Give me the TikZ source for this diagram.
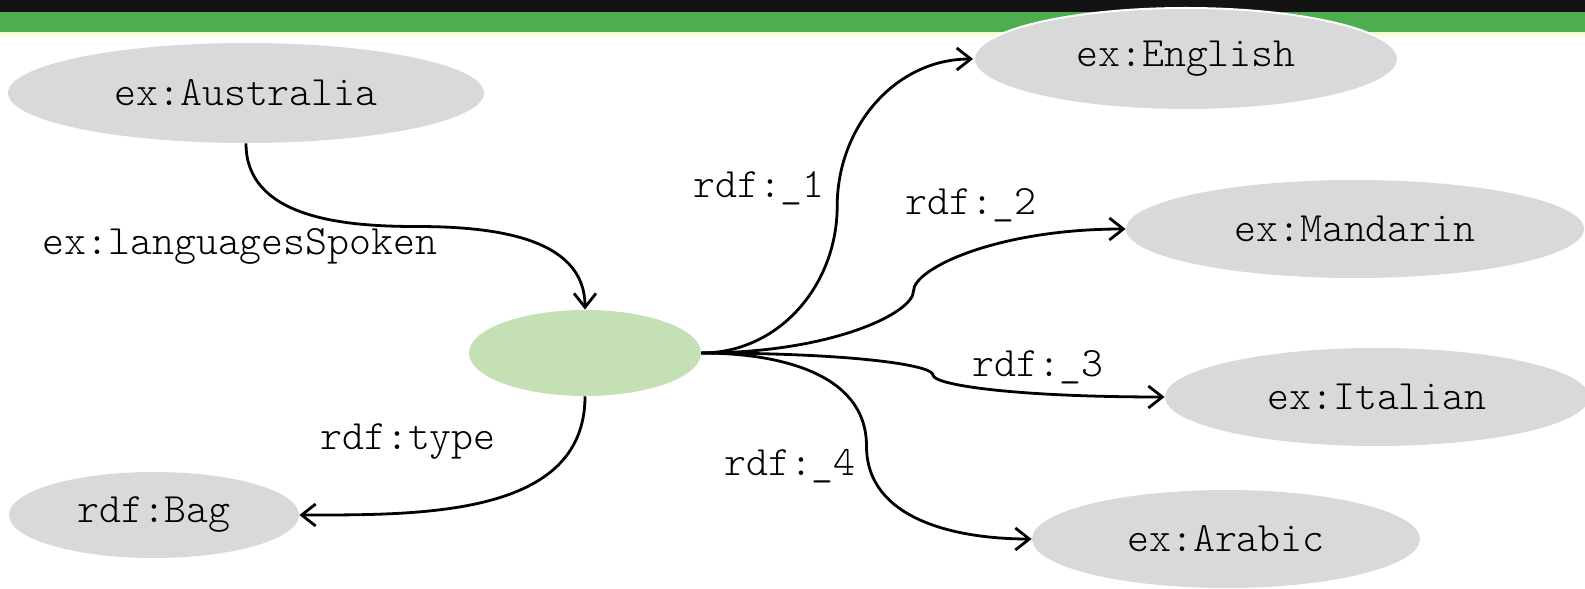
\documentclass[tikz,border=0pt]{standalone}
\usepackage{fontspec}
\setmonofont{Latin Modern Mono Light}
\usetikzlibrary{arrows.meta,shapes.geometric,calc}

\definecolor{resgray}{HTML}{D9D9D9}
\definecolor{blankgreen}{HTML}{C5E0B4}
\definecolor{barblack}{HTML}{131313}
\definecolor{bargreen}{HTML}{4CAE4F}

\begin{document}
\begin{tikzpicture}[x=0.5pt,y=0.5pt,
	basic/.style = {ellipse, inner sep=0pt, font=\ttfamily\fontsize{20.9}{24}\selectfont},
	res/.style   = {basic, fill=resgray},
	bnode/.style = {basic, fill=blankgreen},
	prop/.style  = {font=\ttfamily\fontsize{20.9}{24}\selectfont},
	link/.style  = {-{Straight Barb[length=7pt,width=11pt]}, line width=1.4pt},
	]
	\useasboundingbox (0,0) rectangle (1585,589);
	
	% header bar
	\fill[barblack] (0,589) rectangle (1585,577);
	\fill[bargreen] (0,577) rectangle (1585,556);
	\shade[top color=bargreen!30!yellow!20, bottom color=white] (0,556) rectangle (1585,550);
	
	\node[res, minimum width=238pt, minimum height=50pt] (aus) at (246,496) {ex:Australia};
	\node[bnode, minimum width=116pt, minimum height=43pt] (blank) at (585,236) {};
	\node[res, minimum width=145pt, minimum height=43pt] (bag) at (154,74) {rdf:Bag};
	
	\node[res, draw=white, line width=1pt, minimum width=212pt, minimum height=51pt] (eng) at (1186,530) {ex:English};
	\node[res, minimum width=229pt, minimum height=49pt] (mand) at (1355,360) {ex:Mandarin};
	\node[res, minimum width=212pt, minimum height=49pt] (ital) at (1377,192) {ex:Italian};
	\node[res, minimum width=194pt, minimum height=49pt] (arab) at (1226,50) {ex:Arabic};
	
	\draw[link] (aus.south) to[out=-90,in=180] ($(aus.south)!.5!(blank.north)$) to[out=0,in=90] (blank.north);
	\draw[link] (blank.south) to[out=-90,in=0] (bag.east);
	
	\draw[link] (blank.east) to[out=0,in=-90] ($(blank.east)!.5!(eng.west)$) to[out=90,in=180] (eng.west);
	\draw[link] (blank.east) .. controls +(130,0) and +(0,-22) .. ($(blank.east)!.5!(mand.west)$)
		.. controls +(0,22) and +(-130,0) .. (mand.west);
	\draw[link] (blank.east) .. controls +(150,0) and +(0,10) .. ($(blank.east)!.5!(ital.west)$)
		.. controls +(0,-10) and +(-150,0) .. (ital.west);
	\draw[link] (blank.east) to[out=0,in=90] ($(blank.east)!.5!(arab.west)$) to[out=-90,in=180] (arab.west);
	
	% property labels
	\node[prop] (lspoken) at (240,343) {ex:languagesSpoken};
	\node[prop] (ltype) at (408,147) {rdf:type};
	\node[prop] (l1) at (759,401) {rdf:\_1};
	\node[prop] (l2) at (971,384) {rdf:\_2};
	\node[prop] (l3) at (1038,222) {rdf:\_3};
	\node[prop] (l4) at (790,123) {rdf:\_4};
	
\end{tikzpicture}
\end{document}
